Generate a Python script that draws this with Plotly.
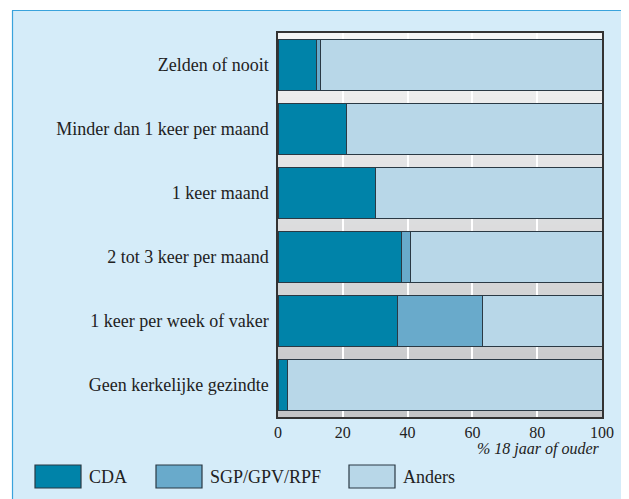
import plotly.graph_objects as go

categories = [
    "Zelden of nooit",
    "Minder dan 1 keer per maand",
    "1 keer maand",
    "2 tot 3 keer per maand",
    "1 keer per week of vaker",
    "Geen kerkelijke gezindte",
]
cda = [12, 21, 30, 38, 37, 3]
sgp = [1, 0, 0, 3, 26, 0]
anders = [87, 79, 70, 59, 37, 97]
series_names = ["CDA", "SGP/GPV/RPF", "Anders"]
colors = ["#0083a9", "#69aacb", "#b8d7e8"]
x_ticks = [0, 20, 40, 60, 80, 100]

OFF = 8  # page body margin
W, H = 629 - OFF, 499 - OFF
# plot area in page pixels: x 278..602, y 33..417
L, R, T, B = 278 - OFF, 629 - 602, 33 - OFF, 499 - 417
pw, ph = W - L - R, H - T - B

def px_x(p):  # page pixel -> paper
    return (p - OFF - L) / pw

def px_y(p):
    return 1 - (p - OFF - T) / ph

FONT = "Liberation Serif"
fig = go.Figure()
for name, vals, col in zip(series_names, [cda, sgp, anders], colors):
    fig.add_trace(go.Bar(
        y=categories, x=vals, name=name, orientation="h",
        marker=dict(color=col, line=dict(color="#2a3944", width=1)),
        showlegend=False,
    ))

shapes = []
# white margins top/left + blue border of panel
shapes.append(dict(type="rect", xref="paper", yref="paper",
                   x0=px_x(0), x1=px_x(640), y0=px_y(0), y1=px_y(10),
                   fillcolor="white", line=dict(width=0), layer="below"))
shapes.append(dict(type="rect", xref="paper", yref="paper",
                   x0=px_x(0), x1=px_x(12), y0=px_y(0), y1=px_y(510),
                   fillcolor="white", line=dict(width=0), layer="below"))
shapes.append(dict(type="line", xref="paper", yref="paper",
                   x0=px_x(12), x1=px_x(640), y0=px_y(10.5), y1=px_y(10.5),
                   line=dict(color="#3aa3dc", width=1.2)))
shapes.append(dict(type="line", xref="paper", yref="paper",
                   x0=px_x(12.5), x1=px_x(12.5), y0=px_y(10.5), y1=px_y(510),
                   line=dict(color="#3aa3dc", width=1.2)))

# gradient plot background
n = 60
top = (244, 244, 244)
bot = (196, 197, 199)
for i in range(n):
    t = i / (n - 1)
    c = tuple(round(top[k] + (bot[k] - top[k]) * t) for k in range(3))
    shapes.append(dict(type="rect", xref="x domain", yref="y domain",
                       x0=0, x1=1, y0=1 - (i + 1) / n, y1=1 - i / n + 0.002,
                       fillcolor="rgb(%d,%d,%d)" % c, line=dict(width=0),
                       layer="below"))

# legend boxes (page pixels)
legend_boxes = [(35, 81), (156, 202), (349, 395)]
annotations = []
for (x0, x1), col, name in zip(legend_boxes, colors, series_names):
    shapes.append(dict(type="rect", xref="paper", yref="paper",
                       x0=px_x(x0), x1=px_x(x1), y0=px_y(488), y1=px_y(465),
                       fillcolor=col, line=dict(color="#2a3944", width=1.2)))
    annotations.append(dict(xref="paper", yref="paper", x=px_x(x1 + 6),
                            y=px_y(477), text=name, showarrow=False,
                            xanchor="left", yanchor="middle",
                            font=dict(family=FONT, size=18, color="#222")))

annotations.append(dict(xref="paper", yref="paper", x=1, y=px_y(449),
                        text="<i>% 18 jaar of ouder</i>", showarrow=False,
                        xanchor="right", yanchor="middle",
                        font=dict(family=FONT, size=16, color="#222")))

fig.update_layout(
    width=W, height=H,
    margin=dict(l=L, r=R, t=T, b=B),
    barmode="stack", bargap=0.2,
    paper_bgcolor="#d5ecf9", plot_bgcolor="#e0e0e0",
    shapes=shapes, annotations=annotations,
    font=dict(family=FONT, color="#222"),
    xaxis=dict(range=[0, 100], tickvals=x_ticks, showgrid=True,
               gridcolor="white", gridwidth=1.5, zeroline=False,
               showline=True, linecolor="#333", linewidth=1.5, mirror=True,
               ticks="",
               tickfont=dict(family=FONT, size=16, color="#222")),
    yaxis=dict(categoryorder="array", categoryarray=categories,
               autorange="reversed", showgrid=False, zeroline=False,
               showline=True, linecolor="#333", linewidth=1.5, mirror=True,
               ticks="", ticklabelstandoff=4,
               tickfont=dict(family=FONT, size=18, color="#222")),
)

fig.write_html("out.html")
